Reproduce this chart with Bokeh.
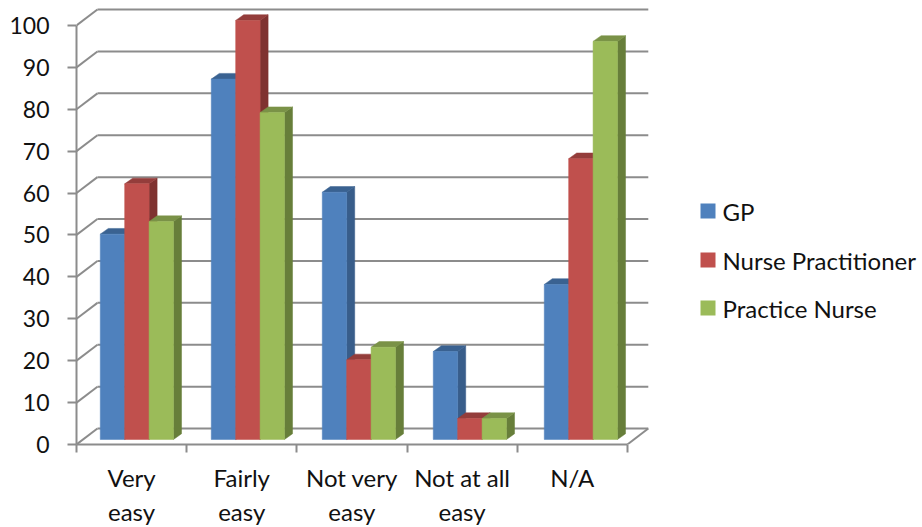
from bokeh.embed import file_html
from bokeh.layouts import row
from bokeh.resources import INLINE
from bokeh.plotting import figure
from bokeh.models import FixedTicker, Range1d
from bokeh.core.properties import value

categories = ["Very\neasy", "Fairly\neasy", "Not very\neasy", "Not at all\neasy", "N/A"]
gp = [49, 86, 59, 21, 37]
nurse_practitioner = [61, 100, 19, 5, 67]
practice_nurse = [52, 78, 22, 5, 95]
y_ticks = [0, 10, 20, 30, 40, 50, 60, 70, 80, 90, 100]

series = [
    ("GP", gp, "#4F81BD", "#3A6291", "#385D8A"),
    ("Nurse Practitioner", nurse_practitioner, "#C0504D", "#943D3B", "#7F3230"),
    ("Practice Nurse", practice_nurse, "#9BBB59", "#7A9247", "#677E3A"),
]

GRID = "#8C8C8C"
FONT = "Lato"
INK = "#111111"

# Oblique projection of the 3D box, in data units
WALL_DX, WALL_DY = 0.19, 3.8
BAR_SHIFT_X, BAR_BASE = 0.048, 1.2
BAR_DX, BAR_DY = 0.073, 1.36
BAR_W = 0.2215
GROUP_STEP = 1.0075
GROUP_GAP = (1 - 3 * BAR_W) / 2

n = len(categories)
p = figure(
    frame_width=574, frame_height=440, output_backend="svg", toolbar_location=None,
    x_range=Range1d(0, n + 0.21), y_range=Range1d(0, 105),
    min_border_left=76, min_border_right=0, min_border_top=4, min_border_bottom=83,
    outline_line_color=None, background_fill_color="white", border_fill_color="white",
)
p.grid.visible = False

# Back wall gridlines and the slanted side-wall and floor edges
p.segment(x0=[WALL_DX] * len(y_ticks), x1=[n + WALL_DX] * len(y_ticks),
          y0=[t + WALL_DY for t in y_ticks], y1=[t + WALL_DY for t in y_ticks],
          line_color=GRID, line_width=2)
p.segment(x0=[0] * len(y_ticks), x1=[WALL_DX] * len(y_ticks),
          y0=y_ticks, y1=[t + WALL_DY for t in y_ticks],
          line_color=GRID, line_width=2)
p.segment(x0=[n], x1=[n + WALL_DX], y0=[0], y1=[WALL_DY], line_color=GRID, line_width=2)

for c in range(n):
    for s, (name, vals, front, top, side) in enumerate(series):
        left = c * GROUP_STEP + GROUP_GAP + BAR_SHIFT_X + s * BAR_W
        right = left + BAR_W
        tip = vals[c] + BAR_BASE
        p.patch([right, right + BAR_DX, right + BAR_DX, right],
                [BAR_BASE, BAR_BASE + BAR_DY, tip + BAR_DY, tip], color=side, line_width=0.5)
        p.patch([left, left + BAR_DX, right + BAR_DX, right],
                [tip, tip + BAR_DY, tip + BAR_DY, tip], color=top, line_width=0.5)
        p.quad(left=[left], right=[right], bottom=[BAR_BASE], top=[tip],
               fill_color=front, line_color=front, line_width=0.5)

ya = p.yaxis[0]
ya.ticker = FixedTicker(ticks=y_ticks)
ya.bounds = (0, 100)
ya.axis_line_color = GRID
ya.axis_line_width = 2
ya.major_tick_line_color = GRID
ya.major_tick_line_width = 2
ya.major_tick_out = 9
ya.major_tick_in = 0
ya.minor_tick_line_color = None
ya.major_label_standoff = 18
ya.major_label_text_font = FONT
ya.major_label_text_font_size = "23px"
ya.major_label_text_color = INK

xa = p.xaxis[0]
xa.ticker = FixedTicker(ticks=[i + 0.5 for i in range(n)], minor_ticks=list(range(n + 1)))
xa.major_label_overrides = {i + 0.5: categories[i] for i in range(n)}
xa.bounds = (0, n)
xa.axis_line_color = GRID
xa.axis_line_width = 2
xa.major_tick_line_color = None
xa.minor_tick_line_color = GRID
xa.minor_tick_line_width = 2
xa.minor_tick_out = 8
xa.minor_tick_in = 0
xa.major_label_standoff = 10
xa.major_label_text_font = FONT
xa.major_label_text_font_size = "24px"
xa.major_label_text_color = INK
xa.major_label_text_line_height = 1.2

# Legend panel to the right of the chart, addressed in page pixels
legend_tops = [199, 248, 296]
lg = figure(
    frame_width=272, frame_height=527, output_backend="svg", toolbar_location=None,
    x_range=Range1d(650, 922), y_range=Range1d(527, 0),
    min_border_left=0, min_border_right=0, min_border_top=0, min_border_bottom=0,
    outline_line_color=None, x_axis_type=None, y_axis_type=None,
)
lg.grid.visible = False
lg.quad(left=[700] * 3, right=[715] * 3,
        top=legend_tops, bottom=[t + 15 for t in legend_tops],
        fill_color=[s[2] for s in series], line_color=None)
lg.text(x=[722] * 3, y=[t + 7.5 for t in legend_tops], text=[s[0] for s in series],
        text_font=value(FONT), text_font_size="24px", text_color=INK,
        text_baseline="middle", text_align="left")

open("out.html", "w").write(file_html(row(p, lg, spacing=0), INLINE))
